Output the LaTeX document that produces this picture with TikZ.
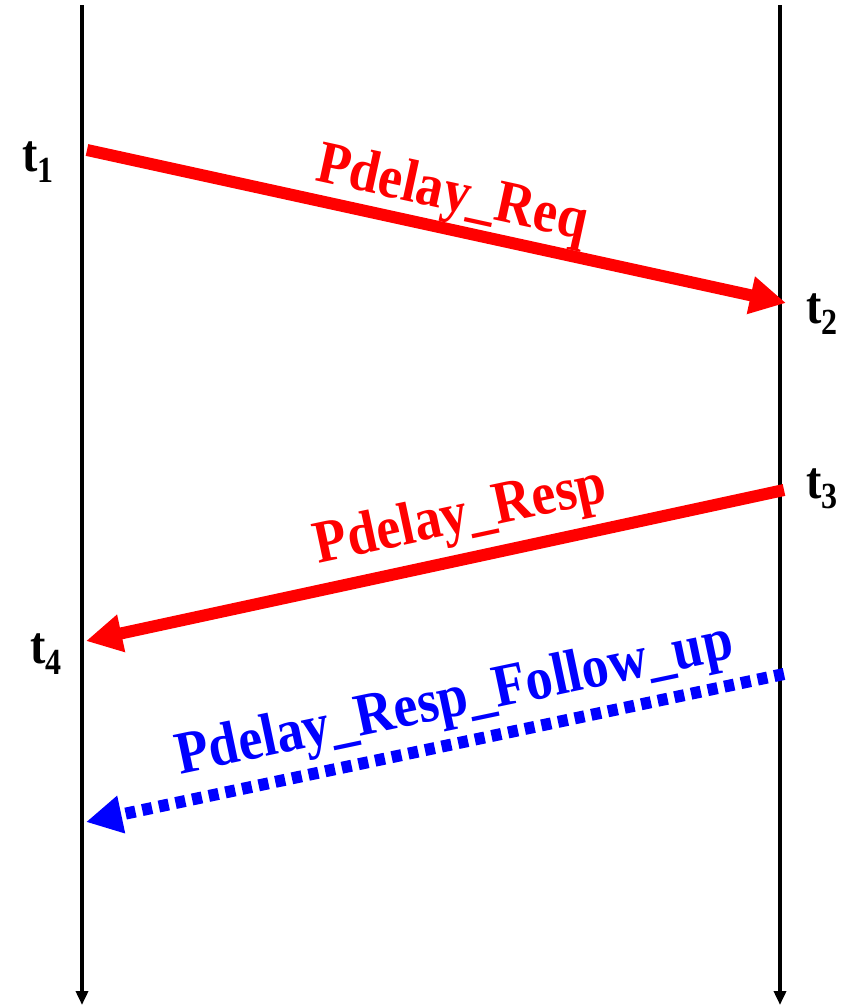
\documentclass[tikz,border=0pt]{standalone}
\usepackage{fontspec}
\usepackage{graphicx}
\setmainfont{Liberation Serif}
\usetikzlibrary{arrows.meta}
\newcommand{\tsub}[1]{\scalebox{1}[1.15]{t\raisebox{-9pt}{\fontsize{32}{32}\selectfont #1}}}
\begin{document}
\begin{tikzpicture}[x=1pt,y=-1pt,
  lifeline/.style={line width=4pt,-{Triangle[length=14pt,width=12pt]}},
  msg/.style={line width=12pt,-{Triangle[length=36pt,width=36pt]}},
  lbl/.style={font=\fontsize{54}{54}\selectfont\bfseries,inner sep=0pt},
  tlbl/.style={font=\fontsize{46}{46}\selectfont\bfseries,inner sep=0pt}]
\useasboundingbox (0,0) rectangle (841,1007);
\coordinate (Ltop) at (82,5);
\coordinate (Lbot) at (82,1005);
\coordinate (Rtop) at (780,5);
\coordinate (Rbot) at (780,1005);
\draw[lifeline] (Ltop) -- (Lbot);
\draw[lifeline] (Rtop) -- (Rbot);
\coordinate (a1) at (87,150);
\coordinate (a2) at (786,303);
\coordinate (b1) at (784,490);
\coordinate (b2) at (86,641);
\coordinate (c1) at (784,674);
\coordinate (c2) at (86,822);
\draw[msg,red] (a1) -- (a2);
\draw[msg,red] (b1) -- (b2);
\draw[msg,blue,dash pattern=on 10pt off 7pt] (c1) -- (c2);
\node[lbl,red,rotate=-12.3] (lreq) at (452,196) {\scalebox{1}[1.12]{Pdelay\_Req}};
\node[lbl,red,rotate=12.1] (lresp) at (461,518) {\scalebox{1}[1.12]{Pdelay\_Resp}};
\node[lbl,blue,rotate=11.9] (lfol) at (455,702) {\scalebox{1}[1.12]{Pdelay\_Resp\_Follow\_up}};
\node[tlbl] (t1) at (38,162) {\tsub{1}};
\node[tlbl] (t2) at (822,314) {\tsub{2}};
\node[tlbl] (t3) at (822,489) {\tsub{3}};
\node[tlbl] (t4) at (46,654) {\tsub{4}};
\end{tikzpicture}
\end{document}
